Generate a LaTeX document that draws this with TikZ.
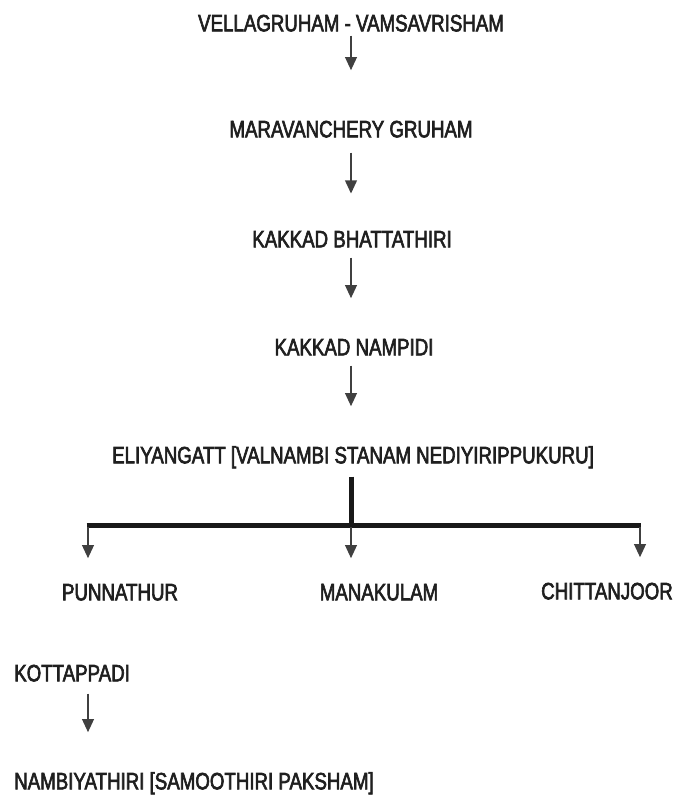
\documentclass[tikz,border=0pt]{standalone}
\usepackage{fontspec}
\setmainfont[FakeStretch=0.79, FakeBold=2.6]{Liberation Sans}
\usetikzlibrary{arrows.meta}

\begin{document}
\begin{tikzpicture}[
    % GLOBAL CFG
    x=0.03cm, y=-0.03cm,
    font=\fontsize{20.2}{22}\selectfont,
    % Styles
    house/.style={% For the family names
        inner sep=0pt,
        text height=0.5cm,
        text depth=0pt,
        text=black!88,
        },
    arr/.style={% Thin arrows between generations
        -{Triangle[width=0.34cm, length=0.4cm]},
        line width=0.085cm,
        draw=black!75,
        shorten <=0.3cm,
        shorten >=1.2cm,
        },
    bar/.style={% Thick branching line
        line width=0.15cm,
        draw=black!90,
        },
    ]

    \useasboundingbox (0,0) rectangle (674,795);

    % Draw the main line named by house
    \node [house] (vella) at (351,23) {VELLAGRUHAM - VAMSAVRISHAM};
    \node [house] (marav) at (351,129) {MARAVANCHERY GRUHAM};
    \node [house] (kbhat) at (352,239) {KAKKAD BHATTATHIRI};
    \node [house] (knamp) at (354,347) {KAKKAD NAMPIDI};
    \node [house] (eli) at (353,455) {ELIYANGATT [VALNAMBI STANAM NEDIYIRIPPUKURU]};

    % Draw the branches
    \node [house] (punn) at (120,592) {PUNNATHUR};
    \node [house] (manak) at (379,592) {MANAKULAM};
    \node [house] (chitt) at (607,591) {CHITTANJOOR};

    \node [house, anchor=west] (kott) at (14,673) {KOTTAPPADI};
    \node [house, anchor=west] (nambi) at (14,781) {NAMBIYATHIRI [SAMOOTHIRI PAKSHAM]};

    % Join points on the bar
    \coordinate (jl) at (88,525);
    \coordinate (jm) at (351,525);
    \coordinate (jr) at (640,525);

    % Drawing arrows
    \draw [arr, shorten <=0.12cm, shorten >=1.5cm] (vella) -- (marav);
    \draw [arr, shorten <=0.45cm, shorten >=1.1cm] (marav) -- (marav |- kbhat.north);
    \draw [arr] (kbhat.south -| marav) -- (marav |- knamp.north);
    \draw [arr] (knamp.south -| marav) -- (marav |- eli.north);

    % Branching
    \draw [bar] (eli.south -| jm) ++(0,13) -- (jm);
    \draw [bar] ([xshift=-0.04cm]jl) -- ([xshift=0.04cm]jr);
    \draw [arr, shorten <=0.05cm, shorten >=0.75cm] (jl) -- (jl |- punn.north);
    \draw [arr, shorten <=0.05cm, shorten >=0.75cm] (jm) -- (jm |- manak.north);
    \draw [arr, shorten <=0.05cm, shorten >=0.75cm] (jr) -- (jr |- chitt.north);

    % Separate line
    \draw [arr, shorten <=0.36cm] (kott.south -| jl) -- (jl |- nambi.north);

\end{tikzpicture}
\end{document}
